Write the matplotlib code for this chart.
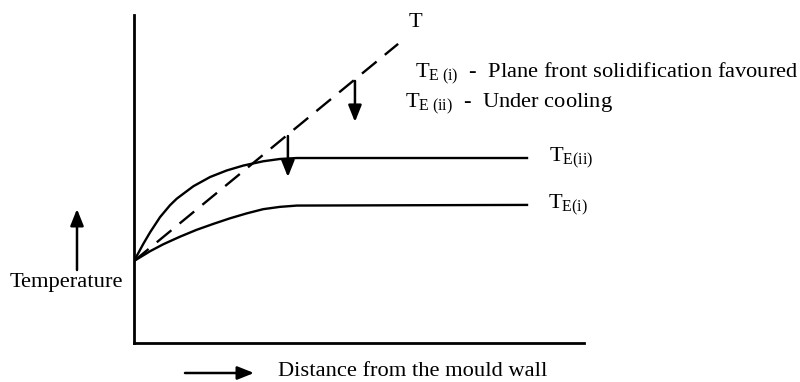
import matplotlib
matplotlib.use('Agg')
import matplotlib.pyplot as plt

plt.rcParams['font.family'] = ['Liberation Serif', 'DejaVu Serif']
plt.rcParams['mathtext.fontset'] = 'custom'
plt.rcParams['mathtext.rm'] = 'Liberation Serif'
plt.rcParams['mathtext.it'] = 'Liberation Serif:italic'

# schematic values (distance 0-100, temperature 0-100)
dist_ii = [0, 2.1, 3.6, 5.8, 8.0, 9.5, 13.2, 16.9, 20.6, 24.3, 28.7, 32.4, 36.2, 87.6]
temp_ii = [25.0, 30.3, 33.8, 38.4, 42.0, 44.0, 47.8, 50.6, 52.6, 54.1, 55.4, 56.1, 56.4, 56.4]
dist_i = [0, 3.6, 6.5, 10.2, 13.9, 17.6, 21.3, 25.0, 28.7, 32.4, 36.2, 87.6]
temp_i = [25.0, 28.0, 30.1, 32.4, 34.5, 36.3, 38.0, 39.5, 40.8, 41.5, 41.9, 42.1]
dist_T = [0, 58.7]
temp_T = [25.0, 91.2]

# arrows showing the drop from T to the equilibrium curves
arrow_x = [49.1, 34.2]
arrow_top = [79.9, 63.1]
arrow_bot = [67.4, 50.6]

fig = plt.figure(figsize=(8, 3.82), dpi=100)
ax = fig.add_axes([134 / 800, 39 / 382, 450 / 800, 328 / 382])
ax.set_xlim(0, 100)
ax.set_ylim(0, 100)
for s in ['top', 'right']:
    ax.spines[s].set_visible(False)
for s in ['left', 'bottom']:
    ax.spines[s].set_linewidth(2)
ax.set_xticks([])
ax.set_yticks([])

ax.plot(dist_ii, temp_ii, color='black', lw=1.7, solid_capstyle='butt')
ax.plot(dist_i, temp_i, color='black', lw=1.7, solid_capstyle='butt')
ax.plot(dist_T, temp_T, color='black', lw=1.7, linestyle=(0, (8, 4.5)))

head = '-|>,head_length=0.5,head_width=0.2'
for x, y0, y1 in zip(arrow_x, arrow_top, arrow_bot):
    ax.annotate('', xy=(x, y1), xytext=(x, y0),
                arrowprops=dict(arrowstyle=head, mutation_scale=20, lw=1.8,
                                color='black', shrinkA=0, shrinkB=0))

fs = 16.2
ax.text(dist_T[1] + 2.3, 97.6, 'T', fontsize=fs, ha='left', va='center', clip_on=False)
ax.text(dist_ii[-1] + 4.7, temp_ii[-1], r'$\mathrm{T}_{\mathrm{E(ii)}}$', fontsize=fs,
        ha='left', va='center', clip_on=False)
ax.text(dist_i[-1] + 4.5, temp_i[-1], r'$\mathrm{T}_{\mathrm{E(i)}}$', fontsize=fs,
        ha='left', va='center', clip_on=False)

fig.text(415, 382 - 73, r'$\mathrm{T}_{\mathrm{E\ (i)}}$  -  Plane front solidification favoured',
         fontsize=fs, ha='left', va='center', transform=None)
fig.text(405, 382 - 104, r'$\mathrm{T}_{\mathrm{E\ (ii)}}$  -  Under cooling',
         fontsize=fs, ha='left', va='center', transform=None)

fig.text(66, 382 - 282, 'Temperature', fontsize=fs, ha='center', va='center', transform=None)
fig.text(278, 382 - 372, 'Distance from the mould wall', fontsize=fs, ha='left',
         va='center', transform=None)

fig.patches.append(matplotlib.patches.FancyArrowPatch(
    (77, 382 - 270), (77, 382 - 209), arrowstyle=head, mutation_scale=20, lw=1.8,
    color='black', shrinkA=0, shrinkB=0, transform=None))
fig.patches.append(matplotlib.patches.FancyArrowPatch(
    (185, 382 - 373), (254, 382 - 373), arrowstyle=head, mutation_scale=20, lw=1.8,
    color='black', shrinkA=0, shrinkB=0, transform=None))

fig.savefig('out.png', dpi=100)
